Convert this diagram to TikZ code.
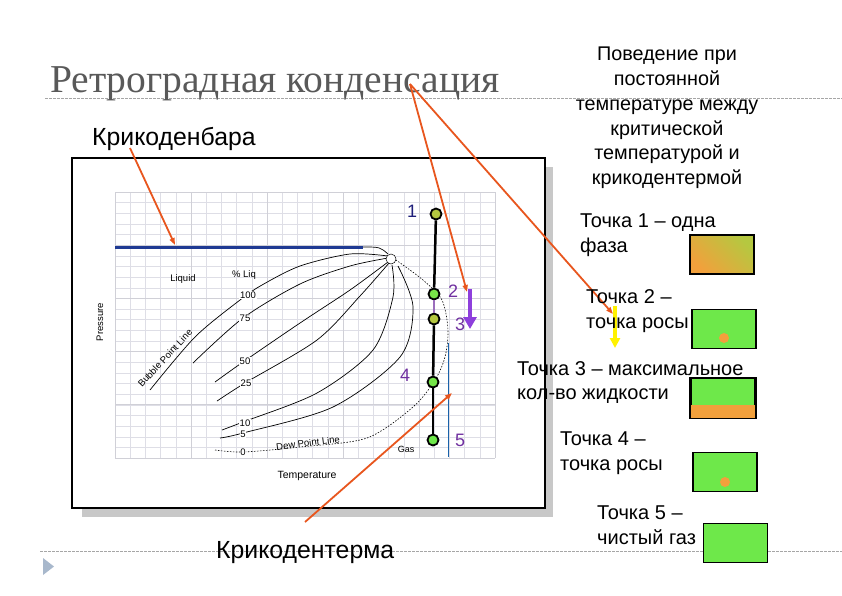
\documentclass[tikz,border=0pt]{standalone}
\usepackage{fontspec}
\setmainfont{Liberation Sans}
\newfontfamily\titlefont{Liberation Serif}
\usetikzlibrary{arrows.meta,positioning,calc}
\definecolor{Oc}{HTML}{E8561E}
\definecolor{Pc}{HTML}{7030A0}
\definecolor{Pa}{HTML}{8E3FDC}
\definecolor{Nc}{HTML}{1F1F7A}
\definecolor{Bc}{HTML}{1F3A93}
\definecolor{Gc}{HTML}{6EE84A}
\definecolor{Yg}{HTML}{B5C840}
\definecolor{Or}{HTML}{F2A03C}
\definecolor{Ttl}{HTML}{595959}
\definecolor{faint}{HTML}{DEDEE6}
\definecolor{rule}{HTML}{A6A6A6}
\definecolor{shadowc}{HTML}{C8C8C8}
\definecolor{Tri}{HTML}{A8B8CC}
\tikzset{
  pt/.style={circle, draw=black, line width=1.8pt, inner sep=0pt, minimum size=11pt},
  num/.style={font=\fontsize{18}{18}\selectfont, inner sep=1pt},
  lbl/.style={font=\fontsize{20}{24.8}\selectfont, align=left, anchor=west, inner sep=0pt},
  axlbl/.style={font=\fontsize{9.5}{10}\selectfont, inner sep=1pt},
  pct/.style={axlbl, fill=white, inner sep=0.6pt},
  curve/.style={black, line width=0.7pt},
  callout/.style={-{Triangle[length=7pt,width=5pt]}, Oc, line width=1.8pt},
  sample/.style={draw=black, line width=1.6pt, fill=Gc, minimum width=64pt, minimum height=39pt, inner sep=0pt},
  hrule/.style={rule, line width=0.7pt, dash pattern=on 2.5pt off 1.5pt},
  minor/.style={faint, line width=0.4pt},
  major/.style={faint!85!gray, line width=0.7pt},
}
\newcommand{\grid}{%
  \foreach \i in {0,...,25} \draw[minor] ({115+15.2*\i},192) -- ({115+15.2*\i},458);
  \foreach \j in {0,...,25} \draw[minor] (115,{192+10.64*\j}) -- (495,{192+10.64*\j});
  \foreach \i in {0,...,5} \draw[major] ({115+76*\i},192) -- ({115+76*\i},458);
  \foreach \j in {0,...,5} \draw[major] (115,{192+53.2*\j}) -- (495,{192+53.2*\j});}

\begin{document}
\begin{tikzpicture}[x=1pt,y=-1pt]
  \useasboundingbox (0,0) rectangle (842,595);
  \fill[white] (0,0) rectangle (842,595);
  % slide rules
  \draw[hrule] (45,98) -- (842,98);
  \draw[hrule] (40,551) -- (842,551);
  \fill[Tri] (43,558) -- (43,575) -- (54,566.5) -- cycle;
  \node[anchor=base west, inner sep=0pt, text=Ttl, font=\titlefont\fontsize{39.5}{39.5}\selectfont] (title) at (50,92) {Ретроградная конденсация};
  % chart frame
  \fill[shadowc] (82,167) rectangle (553,517);
  \draw[line width=1.8pt, fill=white] (72,158) rectangle (545,508);
  \grid
  % phase envelope
  \draw[curve] plot[smooth] coordinates {(150,390) (195,337) (240,300) (262,285) (300,266) (350,254) (388,256)};
  \draw[curve] plot[smooth] coordinates {(193,363) (243,318) (300,284) (350,266) (388,258)};
  \draw[curve] plot[smooth] coordinates {(215,382) (243,362) (300,323) (350,290) (388,262)};
  \draw[curve] plot[smooth] coordinates {(217,401) (245,383) (317,340) (360,296) (389,263)};
  \draw[curve] plot[smooth] coordinates {(222,430) (243,422) (317,393) (373,350) (393,297) (392,265)};
  \draw[curve] plot[smooth] coordinates {(220,438) (243,433) (333,407) (400,357) (413,307) (398,266)};
  \draw[curve, line width=0.6pt, dash pattern=on 1.5pt off 1.5pt] plot[smooth] coordinates {(215,450) (243,452) (300,447) (367,438) (413,407) (435,380) (445,357) (448,330) (442,300) (423,280) (396,260)};
  \draw[Bc, line width=3pt] (115,247) -- (363,247);
  \draw[curve] (363,247) .. controls (380,247) .. (388,254);
  \node[circle, draw=black, fill=white, line width=0.5pt, minimum size=10pt, inner sep=0pt] (crit) at (391,259) {};
  \draw[Bc!80!cyan, line width=1pt] (448,343) -- (448,457);
  % chart texts
  \node[axlbl, rotate=90] (pres) at (100,322) {Pressure};
  \node[axlbl, font=\fontsize{10.5}{11}\selectfont] (temp) at (307,476) {Temperature};
  \node[axlbl] (liq) at (183,279) {Liquid};
  \node[axlbl] (pliq) at (244,275) {\%~Liq};
  \node[axlbl, rotate=47] (bub) at (165,358) {Bubble Point Line};
  \node[axlbl, rotate=7] (dew) at (308,443) {Dew Point Line};
  \node[axlbl, font=\fontsize{9}{9}\selectfont] (gas) at (406,449) {Gas};
  \node[pct] (l100) at (248,295) {100};
  \node[pct] (l75) at (245,318) {75};
  \node[pct] (l50) at (245,361) {50};
  \node[pct] (l25) at (246,383) {25};
  \node[pct] (l10) at (245,423) {10};
  \node[pct] (l5) at (243,434) {5};
  \node[pct] (l0) at (243,452) {0};
  % isotherm points
  \node[pt, fill=Yg] (p1) at (436,214) {};
  \node[pt, fill=Gc!85!Yg] (p2) at (434,294) {};
  \node[pt, fill=Yg] (p3) at (434,319) {};
  \node[pt, fill=Gc!90!Yg] (p4) at (433,382) {};
  \node[pt, fill=Gc] (p5) at (433,440) {};
  \draw[line width=2.5pt] (p1) -- (p2);
  \draw[Pc!70, line width=1.2pt] (p2) -- (p3);
  \draw[line width=2.5pt] (p3) -- (p4);
  \draw[line width=2.5pt] (p4) -- (p5);
  \node[num, text=Nc] (n1) at (412,211) {1};
  \node[num, text=Pc] (n2) at (453,291) {2};
  \node[num, text=Pc] (n3) at (460,324) {3};
  \node[num, text=Pc] (n4) at (405,375) {4};
  \node[num, text=Pc] (n5) at (460,440) {5};
  \coordinate (dn0) at (470,289);
  \coordinate (dn1) at (470,329);
  \draw[Pa, line width=4pt, -{Triangle[length=12pt,width=13pt]}] (dn0) -- (dn1);
  % labels and callouts
  \node[anchor=base west, inner sep=0pt, font=\fontsize{24.8}{24.8}\selectfont] (kbar) at (92,145) {Крикоденбара};
  \node[anchor=base west, inner sep=0pt, font=\fontsize{24.8}{24.8}\selectfont] (kterm) at (216,558) {Крикодентерма};
  \node[font=\fontsize{19.8}{24.8}\selectfont, align=center, inner sep=0pt] (note) at (667,118) {Поведение при\\ постоянной\\ температуре между\\ критической\\ температурой и\\ крикодентермой};
  \coordinate (kb0) at (130,148);
  \coordinate (kb1) at (175,245);
  \coordinate (ti0) at (410,84);
  \coordinate (ti1) at (467,292);
  \coordinate (ti2) at (613,314);
  \coordinate (kt0) at (305,522);
  \coordinate (kt1) at (452,393);
  \coordinate (ye0) at (615,306);
  \coordinate (ye1) at (615,348);
  \draw[yellow, line width=4pt, -{Triangle[length=10pt,width=10pt]}] (ye0) -- (ye1);
  \draw[callout] (kb0) -- (kb1);
  \draw[callout] (ti0) -- (ti1);
  \draw[callout] (ti0) -- (ti2);
  \draw[callout] (kt0) -- (kt1);
  % states at points
  \node[lbl] (t1) at (580,235) {Точка 1 -- одна\\фаза};
  \node[lbl] (t2) at (586,311) {Точка 2 --\\точка росы};
  \node[lbl] (t3) at (517,382.5) {Точка 3 -- максимальное\\кол-во жидкости};
  \node[lbl] (t4) at (560,453) {Точка 4 --\\точка росы};
  \node[lbl] (t5) at (597,525) {Точка 5 --\\чистый газ};
  \node[sample, shading=axis, left color=Or, right color=Yg, shading angle=135] (s1) at (722,254.5) {};
  \node[sample] (s2) at (724,329) {};
  \node[sample] (s3) at (723,398) {};
  \node[sample] (s4) at (725,472) {};
  \node[sample] (s5) at (735.5,543) {};
  \fill[Or] ([yshift=-9pt]s2.center) circle (5);
  \fill[Or] ([yshift=-10pt]s4.center) circle (5);
  \fill[Or] ([xshift=0.8pt,yshift=0.8pt]s3.south west) rectangle ([xshift=-0.8pt,yshift=13pt]s3.south east);
  \draw[line width=1.6pt] (s3.south west) rectangle (s3.north east);
\end{tikzpicture}
\end{document}
